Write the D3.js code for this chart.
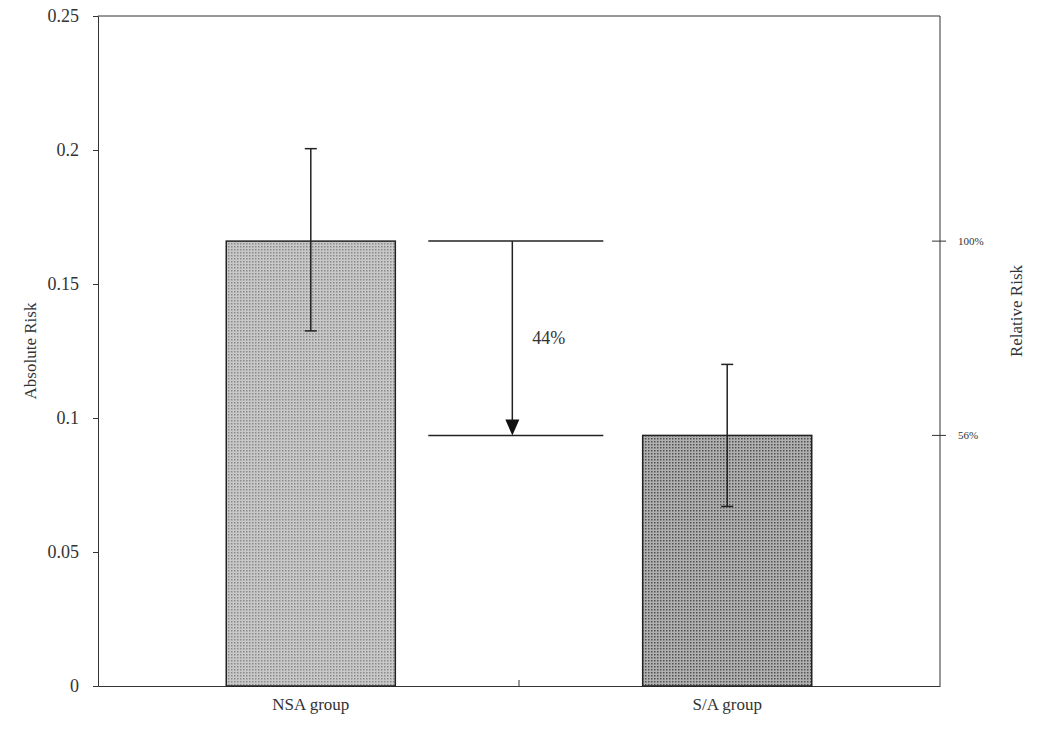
<!DOCTYPE html><html><head><script src="https://cdn.jsdelivr.net/npm/d3@7"></script>
<style>body{margin:0;background:#fff}text{font-family:"Liberation Serif","DejaVu Serif",serif;fill:#333}</style></head><body>
<svg id="c" width="1037" height="732"></svg>
<script>
const categories=["NSA group","S/A group"];
const risks=[0.166,0.0935];
const errLow=[0.1325,0.067];
const errHigh=[0.2005,0.12];
const yTicks=[0,0.05,0.1,0.15,0.2,0.25];
const rightTicks=[{label:"100%",v:0.166},{label:"56%",v:0.0935}];
const reductionLabel="44%";
const fills=["url(#p0)","url(#p1)"];

const svg=d3.select("#c");
const L=98,R=940,T=16,B=686;
const defs=svg.append("defs");
[["p0","#c8c8c8","#8a8a8a"],["p1","#b0b0b0","#505050"]].forEach(([id,bg,fg])=>{
 const p=defs.append("pattern").attr("id",id).attr("width",3).attr("height",3).attr("patternUnits","userSpaceOnUse");
 p.append("rect").attr("width",3).attr("height",3).attr("fill",bg);
 p.append("rect").attr("width",1.5).attr("height",1.5).attr("fill",fg);
});
const y=d3.scaleLinear().domain([0,0.25]).range([B,T]);
const x=d3.scaleBand().domain(categories).range([L,R]).paddingInner(0.594).paddingOuter(0.308);
svg.append("line").attr("x1",L).attr("x2",R).attr("y1",T).attr("y2",T).attr("stroke","#333");
svg.append("line").attr("x1",R).attr("x2",R).attr("y1",T).attr("y2",B).attr("stroke","#333");
const ya=svg.append("g").attr("transform",`translate(${L},0)`).call(d3.axisLeft(y).tickValues(yTicks).tickFormat(d=>d).tickSize(5).tickPadding(14));
ya.selectAll("text").style("font-size","18px");
const xa=svg.append("g").attr("transform",`translate(0,${B})`).call(d3.axisBottom(x).tickSize(0).tickPadding(12));
xa.selectAll("text").style("font-size","17px");
const mid=(x(categories[0])+x.bandwidth()+x(categories[1]))/2;
xa.append("line").attr("x1",mid).attr("x2",mid).attr("y1",0).attr("y2",-6).attr("stroke","#333");
svg.selectAll(".domain,.tick line").attr("stroke","#333");
svg.selectAll(".bar").data(categories).join("rect").attr("x",d=>x(d)).attr("width",x.bandwidth())
 .attr("y",(d,i)=>y(risks[i])).attr("height",(d,i)=>B-y(risks[i])).attr("fill",(d,i)=>fills[i]).attr("stroke","#222").attr("stroke-width",1.5);
categories.forEach((c,i)=>{
 const cx=x(c)+x.bandwidth()/2;
 svg.append("line").attr("x1",cx).attr("x2",cx).attr("y1",y(errHigh[i])).attr("y2",y(errLow[i])).attr("stroke","#222").attr("stroke-width",1.5);
 [errHigh[i],errLow[i]].forEach(v=>svg.append("line").attr("x1",cx-6).attr("x2",cx+6).attr("y1",y(v)).attr("y2",y(v)).attr("stroke","#222").attr("stroke-width",1.5));
});
rightTicks.forEach(t=>{
 svg.append("line").attr("x1",R-8).attr("x2",R+6).attr("y1",y(t.v)).attr("y2",y(t.v)).attr("stroke","#333");
 svg.append("text").attr("x",R+18).attr("y",y(t.v)+4).style("font-size","11px").text(t.label);
});
const a0=x(categories[0])+x.bandwidth()+33, a1=a0+175, ax=a0+84;
rightTicks.forEach(t=>svg.append("line").attr("x1",a0).attr("x2",a1).attr("y1",y(t.v)).attr("y2",y(t.v)).attr("stroke","#222").attr("stroke-width",1.5));
svg.append("line").attr("x1",ax).attr("x2",ax).attr("y1",y(risks[0])).attr("y2",y(risks[1])-12).attr("stroke","#222").attr("stroke-width",1.5);
svg.append("path").attr("d",`M${ax-7},${y(risks[1])-16}L${ax+7},${y(risks[1])-16}L${ax},${y(risks[1])}Z`).attr("fill","#111");
svg.append("text").attr("x",ax+20).attr("y",(y(risks[0])+y(risks[1]))/2+6).style("font-size","18px").text(reductionLabel);
svg.append("text").attr("transform",`translate(36,${(T+B)/2}) rotate(-90)`).attr("text-anchor","middle").style("font-size","17px").text("Absolute Risk");
svg.append("text").attr("transform",`translate(1022,${(T+B)/2-40}) rotate(-90)`).attr("text-anchor","middle").style("font-size","17px").text("Relative Risk");
</script></body></html>
